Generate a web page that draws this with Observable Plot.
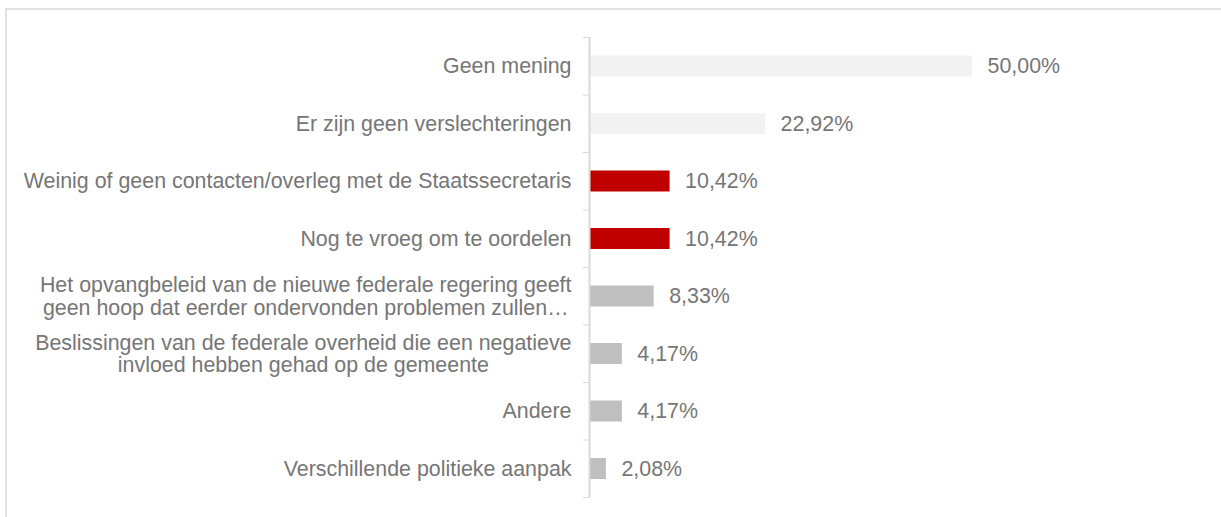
<!DOCTYPE html>
<html>
<head>
<meta charset="utf-8">
<script src="https://cdn.jsdelivr.net/npm/d3@7"></script>
<script src="https://cdn.jsdelivr.net/npm/@observablehq/plot@0.6"></script>
<style>
  html, body { margin: 0; padding: 0; background: #fff; overflow: hidden; }
  #wrap { position: relative; width: 1221px; height: 517px; overflow: hidden; }
  #frame { position: absolute; left: 5px; top: 8px; width: 1400px; height: 700px;
           border-left: 2px solid #e2e2e2; border-top: 2px solid #e2e2e2; }
  #chart { position: absolute; left: 0; top: 0; }
</style>
</head>
<body>
<div id="wrap"><div id="frame"></div><div id="chart"></div></div>
<script>
const categories = [
  "Geen mening",
  "Er zijn geen verslechteringen",
  "Weinig of geen contacten/overleg met de Staatssecretaris",
  "Nog te vroeg om te oordelen",
  "Het opvangbeleid van de nieuwe federale regering geeft\ngeen hoop dat eerder ondervonden problemen zullen…",
  "Beslissingen van de federale overheid die een negatieve\ninvloed hebben gehad op de gemeente",
  "Andere",
  "Verschillende politieke aanpak"
];
const values = [50.00, 22.92, 10.42, 10.42, 8.33, 4.17, 4.17, 2.08];
const groups = ["light", "light", "red", "red", "gray", "gray", "gray", "gray"];
const valueLabels = ["50,00%", "22,92%", "10,42%", "10,42%", "8,33%", "4,17%", "4,17%", "2,08%"];

const data = categories.map((c, i) => ({cat: c, idx: i, value: values[i], group: groups[i], label: valueLabels[i]}));

const FONT = "Liberation Sans, Arial, sans-serif";
const FS = 21.4;
const TEXT = "#767676";
const ctx = document.createElement("canvas").getContext("2d");
ctx.font = `${FS}px "Liberation Sans", Arial, sans-serif`;
const blockWidth = c => Math.max(...c.split("\n").map(l => ctx.measureText(l).width));

// one text mark per category so each multi-line block can be centred on its own width
const categoryLabels = data.map(d => Plot.text([d], {
  x: 0, y: e => e.idx + 0.5, text: "cat",
  textAnchor: "middle", lineAnchor: "middle", lineHeight: 1.04,
  dx: -(19 + blockWidth(d.cat) / 2),
  fontSize: FS, fill: TEXT
}));

const chart = Plot.plot({
  width: 1221,
  height: 517,
  marginLeft: 590,
  marginRight: 249,
  marginTop: 37,
  marginBottom: 20,
  style: {fontFamily: FONT, background: "transparent"},
  x: {domain: [0, 50], axis: null},
  y: {domain: [0, categories.length], reverse: true, axis: null},
  color: {domain: ["light", "red", "gray"], range: ["#f2f2f2", "#c00000", "#bfbfbf"]},
  marks: [
    Plot.rectX(data, {x1: 0, x2: "value", y1: "idx", y2: d => d.idx + 1, fill: "group", insetTop: 18.5, insetBottom: 18}),
    Plot.axisY({ticks: d3.range(categories.length + 1), tickSize: 7, tickFormat: () => "", label: null, stroke: "#d9d9d9", strokeOpacity: 1}),
    Plot.ruleX([0], {stroke: "#d9d9d9", strokeWidth: 2, dx: -1}),
    ...categoryLabels,
    Plot.text(data, {
      x: "value", y: d => d.idx + 0.5, text: "label",
      textAnchor: "start", lineAnchor: "middle", dx: 15,
      fontSize: FS, fill: TEXT
    })
  ]
});
document.getElementById("chart").appendChild(chart);
</script>
</body>
</html>
